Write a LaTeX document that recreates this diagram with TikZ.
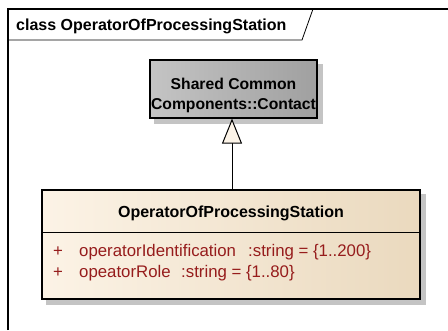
\documentclass[tikz,border=0pt]{standalone}
\usepackage{fontspec}
\setmainfont{Liberation Sans}
\usetikzlibrary{arrows.meta,backgrounds}
\definecolor{attrred}{RGB}{150,28,28}
\definecolor{creamL}{RGB}{252,243,230}
\definecolor{creamR}{RGB}{234,217,190}
\definecolor{grayL}{RGB}{196,196,196}
\definecolor{grayR}{RGB}{160,160,160}
\definecolor{shadowc}{RGB}{196,196,196}
\definecolor{tricol}{RGB}{252,244,232}
\tikzset{
  framel/.style={line width=1.2pt, black},
  tabl/.style={line width=0.8pt, black},
  basebox/.style={draw=black, line width=1.2pt, rectangle, inner sep=0pt,
    left color=grayL, right color=grayR, minimum width=167pt, minimum height=58pt},
  classbox/.style={draw=black, line width=1.2pt, rectangle, inner sep=0pt,
    left color=creamL, right color=creamR, minimum width=378pt, minimum height=109pt},
  boldtxt/.style={font=\fontsize{16}{19}\selectfont\bfseries, inner sep=0pt},
  attr/.style={font=\fontsize{16.8}{19}\selectfont, text=attrred, inner sep=0pt, anchor=base west},
  shadowbox/.style={fill=shadowc},
  generalization/.style={line width=1pt, -{Triangle[length=25pt,width=20pt,fill=tricol]}},
}
\begin{document}
\begin{tikzpicture}[x=1pt,y=-1pt]
\useasboundingbox (0,0) rectangle (448,330);
% frame
\draw[framel] (8,330) -- (8,9) -- (448,9);
\draw[tabl] (8,40) -- (302,40) -- (313,9);
\node[boldtxt, anchor=base west] (tab) at (16,30.5) {class OperatorOfProcessingStation};
% base class
\node[basebox] (contact) at (233.5,89) {};
\node[font=\fontsize{15.7}{20}\selectfont\bfseries, align=center, inner sep=0pt] (contactlbl) at (233.5,95) {Shared Common\\Components::Contact};
% class
\node[classbox] (cls) at (231,244.5) {};
\coordinate (divL) at (42,232);
\coordinate (divR) at (420,232);
\draw[line width=1pt] (divL) -- (divR);
\node[boldtxt] (title) at (231,213) {OperatorOfProcessingStation};
\node[attr] (p1) at (53,256) {+};
\node[attr] (a1) at (79,256) {operatorIdentification};
\node[attr] (t1) at (248,256) {:string = \{1..200\}};
\node[attr] (p2) at (53,277) {+};
\node[attr] (a2) at (79,277) {opeatorRole};
\node[attr] (t2) at (181,277) {:string = \{1..80\}};
% shadows
\begin{scope}[on background layer]
\fill[shadowbox] ([shift={(5,5)}]contact.north west) rectangle ([shift={(5,5)}]contact.south east);
\fill[shadowbox] ([shift={(5,5)}]cls.north west) rectangle ([shift={(5,5)}]cls.south east);
\end{scope}
% generalization
\draw[generalization] ([xshift=1pt]cls.north) -- ([xshift=1pt]cls.north |- contact.south);
\end{tikzpicture}
\end{document}
